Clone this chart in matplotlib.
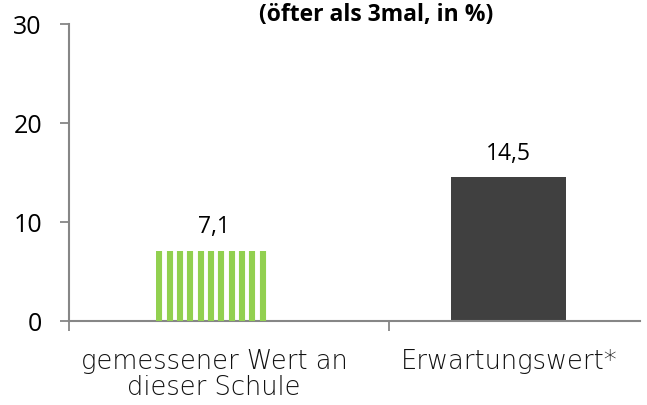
import numpy as np
import matplotlib.pyplot as plt
from matplotlib.ticker import FixedLocator

# chart data
categories = ["gemessener Wert an\ndieser Schule", "Erwartungswert*"]
values = [7.1, 14.5]
value_labels = ["7,1", "14,5"]
title = "(öfter als 3mal, in %)"

axis_grey = "#868686"
green = "#92D050"
dark = "#404040"

fig = plt.figure(figsize=(6.47, 4.05), dpi=100)
ax = fig.add_axes([0.1066, 0.2074, 0.882, 0.7333])

x = np.arange(len(categories))
bars = ax.bar(x, values, width=0.39, color=["white", dark], edgecolor="none", zorder=2)

# green vertical stripes clipped to the first bar
b = bars[0]
x0 = b.get_x()
step = 0.035
stripe_x = np.arange(x0 + step * 0.3, x0 + b.get_width(), step)
lines = ax.vlines(stripe_x, 0, values[0], colors=green, linewidth=4.4, zorder=3)
lines.set_clip_path(b)

for xi, v, lab in zip(x, values, value_labels):
    ax.text(xi, v + 1.8, lab, ha="center", va="baseline", fontsize=16.5,
            family="Open Sans", color="black")

ax.set_xlim(-0.4915, 1.444)
ax.set_ylim(0, 30)
ax.set_yticks([0, 10, 20, 30])
ax.set_yticklabels(["0", "10", "20", "30"], fontsize=18, family="Open Sans")

ax.set_xticks(x)
ax.set_xticklabels(categories, fontsize=18.5, family="DejaVu Sans", fontweight="light",
                   color="#111111", linespacing=1.06)
ax.tick_params(axis="x", which="major", length=0, pad=20)
ax.xaxis.set_minor_locator(FixedLocator([-0.4915, 0.593]))
ax.tick_params(axis="x", which="minor", length=7, width=1.3, color=axis_grey, direction="out")
ax.tick_params(axis="y", length=6.5, width=1.3, color=axis_grey, direction="out", pad=13)

for s in ["top", "right"]:
    ax.spines[s].set_visible(False)
for s in ["left", "bottom"]:
    ax.spines[s].set_color(axis_grey)
    ax.spines[s].set_linewidth(1.5)

fig.text(0.581, 0.963, title, ha="center", va="center", fontsize=16.5,
         family="Open Sans", fontweight="bold")

fig.savefig("out.png", dpi=100)
